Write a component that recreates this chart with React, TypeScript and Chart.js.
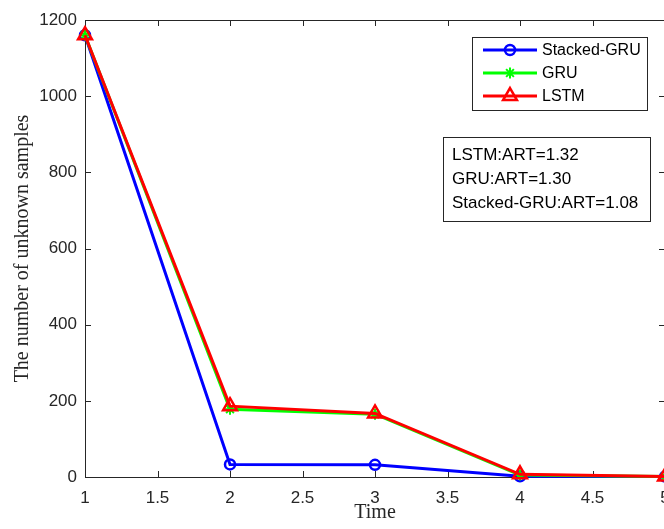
import React, { useEffect, useRef } from "react";
import { Chart, registerables } from "chart.js";

Chart.register(...registerables);

const times = [1, 2, 3, 4, 5];
const stackedGru = [1160, 33, 32, 2, 1];
const gru = [1160, 178, 165, 5, 1];
const lstm = [1160, 186, 167, 7, 1];
const xTicks = [1, 1.5, 2, 2.5, 3, 3.5, 4, 4.5, 5];
const yTicks = [0, 200, 400, 600, 800, 1000, 1200];
const artLines = ["LSTM:ART=1.32", "GRU:ART=1.30", "Stacked-GRU:ART=1.08"];

const SANS = '"Liberation Sans", Arial, sans-serif';
const SERIF = '"Liberation Serif", "Times New Roman", serif';
const AXIS = "#262626";

function drawMarker(ctx: CanvasRenderingContext2D, style: string, x: number, y: number, r: number) {
  ctx.beginPath();
  if (style === "circle") {
    ctx.arc(x, y, r, 0, Math.PI * 2);
  } else if (style === "triangle") {
    for (let i = 0; i < 3; i++) {
      const a = (i * 2 * Math.PI) / 3;
      const px = x + Math.sin(a) * r;
      const py = y - Math.cos(a) * r;
      if (i === 0) ctx.moveTo(px, py);
      else ctx.lineTo(px, py);
    }
    ctx.closePath();
  } else {
    for (let i = 0; i < 4; i++) {
      const a = (i * Math.PI) / 4;
      ctx.moveTo(x + Math.cos(a) * r, y + Math.sin(a) * r);
      ctx.lineTo(x - Math.cos(a) * r, y - Math.sin(a) * r);
    }
  }
  ctx.stroke();
}

const framePlugin = {
  id: "frame",
  beforeDatasetsDraw(chart: any) {
    const { ctx, chartArea } = chart;
    const { left, right, top, bottom } = chartArea;
    ctx.save();
    ctx.strokeStyle = AXIS;
    ctx.lineWidth = 1;
    ctx.strokeRect(Math.round(left) + 0.5, Math.round(top) + 0.5, Math.round(right - left), Math.round(bottom - top));
    const xs = chart.scales.x;
    const ys = chart.scales.y;
    ctx.beginPath();
    xs.ticks.forEach((t: any) => {
      const px = Math.round(xs.getPixelForValue(t.value)) + 0.5;
      ctx.moveTo(px, bottom);
      ctx.lineTo(px, bottom - 6);
      ctx.moveTo(px, top);
      ctx.lineTo(px, top + 6);
    });
    ys.ticks.forEach((t: any) => {
      const py = Math.round(ys.getPixelForValue(t.value)) + 0.5;
      ctx.moveTo(left, py);
      ctx.lineTo(left + 6, py);
      ctx.moveTo(right, py);
      ctx.lineTo(right - 6, py);
    });
    ctx.stroke();
    ctx.restore();
  },
};

const legendPlugin = {
  id: "customLegend",
  afterDraw(chart: any) {
    const { ctx } = chart;
    ctx.save();
    ctx.fillStyle = "#ffffff";
    ctx.fillRect(472.5, 37.5, 175, 73);
    ctx.strokeStyle = AXIS;
    ctx.lineWidth = 1;
    ctx.strokeRect(472.5, 37.5, 175, 73);
    const ds = chart.data.datasets;
    ds.forEach((d: any, i: number) => {
      const y = 50 + i * 23;
      ctx.strokeStyle = d.borderColor;
      ctx.lineWidth = d.borderWidth;
      ctx.beginPath();
      ctx.moveTo(483, y);
      ctx.lineTo(537, y);
      ctx.stroke();
      ctx.lineWidth = d.pointBorderWidth;
      drawMarker(ctx, d.pointStyle, 510, y, d.pointRadius);
      ctx.fillStyle = "#000000";
      ctx.font = `16px ${SANS}`;
      ctx.textAlign = "left";
      ctx.textBaseline = "middle";
      ctx.fillText(d.label, 542, y + 1);
    });
    ctx.fillStyle = "#ffffff";
    ctx.fillRect(443.5, 137.5, 207, 84);
    ctx.strokeStyle = AXIS;
    ctx.lineWidth = 1;
    ctx.strokeRect(443.5, 137.5, 207, 84);
    ctx.fillStyle = "#000000";
    ctx.font = `17px ${SANS}`;
    ctx.textAlign = "left";
    ctx.textBaseline = "middle";
    artLines.forEach((s, i) => {
      ctx.fillText(s, 452, 155 + i * 24);
    });
    ctx.restore();
  },
};

export default function App() {
  const ref = useRef<HTMLCanvasElement | null>(null);
  useEffect(() => {
    document.body.style.margin = "0";
    const canvas = ref.current!;
    const chart = new Chart(canvas, {
      type: "line",
      data: {
        datasets: [
          {
            label: "Stacked-GRU",
            data: times.map((t, i) => ({ x: t, y: stackedGru[i] })),
            borderColor: "#0000ff",
            backgroundColor: "#0000ff",
            borderWidth: 3,
            pointStyle: "circle",
            pointRadius: 5,
            pointBorderWidth: 2.5,
            pointBorderColor: "#0000ff",
            pointBackgroundColor: "rgba(0,0,0,0)",
            order: 2,
            clip: false as any,
          },
          {
            label: "GRU",
            data: times.map((t, i) => ({ x: t, y: gru[i] })),
            borderColor: "#00ff00",
            backgroundColor: "#00ff00",
            borderWidth: 3,
            pointStyle: "star",
            pointRadius: 5.5,
            pointBorderWidth: 2,
            pointBorderColor: "#00ff00",
            pointBackgroundColor: "rgba(0,0,0,0)",
            order: 1,
            clip: false as any,
          },
          {
            label: "LSTM",
            data: times.map((t, i) => ({ x: t, y: lstm[i] })),
            borderColor: "#ff0000",
            backgroundColor: "#ff0000",
            borderWidth: 3,
            pointStyle: "triangle",
            pointRadius: 8,
            pointBorderWidth: 2.5,
            pointBorderColor: "#ff0000",
            pointBackgroundColor: "rgba(0,0,0,0)",
            order: 0,
            clip: false as any,
          },
        ],
      },
      options: {
        animation: false,
        responsive: false,
        devicePixelRatio: 1,
        layout: { padding: { top: 20, left: 0, right: 11, bottom: 0 } },
        plugins: { legend: { display: false }, tooltip: { enabled: false } },
        scales: {
          x: {
            type: "linear",
            min: 1,
            max: 5,
            grid: { display: false, drawTicks: false },
            border: { display: false },
            afterBuildTicks: (scale: any) => {
              scale.ticks = xTicks.map((v) => ({ value: v }));
            },
            ticks: {
              padding: 11,
              color: AXIS,
              font: { family: SANS, size: 17 },
              maxRotation: 0,
              autoSkip: false,
              callback: (v: any) => String(v),
            },
            title: {
              display: true,
              text: "Time",
              color: AXIS,
              font: { family: SERIF, size: 20 },
              padding: { top: 0, bottom: 4 },
            },
            afterFit: (scale: any) => {
              scale.height = 52;
              scale.paddingLeft = 0;
              scale.paddingRight = 0;
            },
          },
          y: {
            type: "linear",
            min: 0,
            max: 1200,
            grid: { display: false, drawTicks: false },
            border: { display: false },
            afterBuildTicks: (scale: any) => {
              scale.ticks = yTicks.map((v) => ({ value: v }));
            },
            ticks: {
              padding: 8,
              color: AXIS,
              font: { family: SANS, size: 17 },
              autoSkip: false,
              callback: (v: any) => String(v),
            },
            title: {
              display: true,
              text: "The number of unknown samples",
              color: AXIS,
              font: { family: SERIF, size: 20 },
              padding: { top: 11, bottom: 0 },
            },
            afterFit: (scale: any) => {
              scale.width = 85;
              scale.paddingTop = 0;
              scale.paddingBottom = 0;
            },
          },
        },
      },
      plugins: [framePlugin, legendPlugin],
    });
    return () => chart.destroy();
  }, []);
  return (
    <div style={{ position: "absolute", left: 0, top: 0, width: 664, height: 529, overflow: "hidden", background: "#fff" }}>
      <canvas ref={ref} width={676} height={529} style={{ width: 676, height: 529, display: "block" }} />
    </div>
  );
}
